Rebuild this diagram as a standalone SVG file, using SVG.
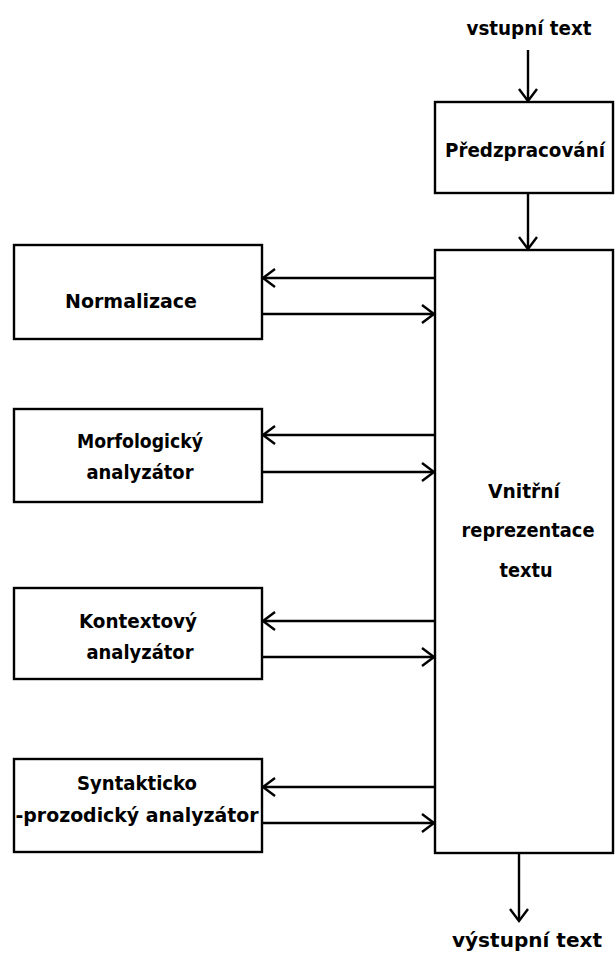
<svg xmlns="http://www.w3.org/2000/svg" width="615" height="956" viewBox="0 0 615 956">
<style>
.box{fill:#fff;stroke:#000;stroke-width:2.4}
.t{font-family:"DejaVu Sans Condensed","DejaVu Sans","Liberation Sans",sans-serif;font-stretch:condensed;font-weight:bold;font-size:20px;fill:#000;text-anchor:middle}
.c{stroke:#000;stroke-width:2.4;fill:none}
</style>
<defs>
<marker id="ah" viewBox="-14 -11 16 22" markerWidth="16" markerHeight="22" refX="0" refY="0" orient="auto" markerUnits="userSpaceOnUse">
<path d="M-12,-9 L0,0 L-12,9" fill="none" stroke="#000" stroke-width="2.4"/>
</marker>
</defs>
<g id="input-label"><text class="t" x="529" y="35" textLength="125" lengthAdjust="spacingAndGlyphs">vstupní text</text></g>
<g id="predzpracovani"><rect class="box" x="435" y="102" width="178" height="91"/><text class="t" x="525" y="157" font-size="19" textLength="160" lengthAdjust="spacingAndGlyphs">Předzpracování</text></g>
<g id="vnitrni"><rect class="box" x="435" y="250" width="178" height="603"/>
<text class="t" x="524" y="498" textLength="72" lengthAdjust="spacingAndGlyphs">Vnitřní</text>
<text class="t" x="528" y="537" font-size="19" textLength="133" lengthAdjust="spacingAndGlyphs">reprezentace</text>
<text class="t" x="526" y="577" textLength="53" lengthAdjust="spacingAndGlyphs">textu</text></g>
<g id="normalizace"><rect class="box" x="14" y="245" width="248" height="94"/><text class="t" x="131" y="308" textLength="132" lengthAdjust="spacingAndGlyphs">Normalizace</text></g>
<g id="morfologicky"><rect class="box" x="14" y="409" width="248" height="93"/><text class="t" x="140" y="448" textLength="126" lengthAdjust="spacingAndGlyphs">Morfologický</text><text class="t" x="140" y="479" textLength="107" lengthAdjust="spacingAndGlyphs">analyzátor</text></g>
<g id="kontextovy"><rect class="box" x="14" y="588" width="248" height="91"/><text class="t" x="138" y="628" textLength="118" lengthAdjust="spacingAndGlyphs">Kontextový</text><text class="t" x="140" y="659" textLength="107" lengthAdjust="spacingAndGlyphs">analyzátor</text></g>
<g id="syntakticko"><rect class="box" x="14" y="759" width="248" height="93"/><text class="t" x="137" y="790" textLength="120" lengthAdjust="spacingAndGlyphs">Syntakticko</text><text class="t" x="137" y="822" font-size="19" textLength="243" lengthAdjust="spacingAndGlyphs">-prozodický analyzátor</text></g>
<g id="output-label"><text class="t" x="527" y="947" font-size="21" textLength="150" lengthAdjust="spacingAndGlyphs">výstupní text</text></g>
<g id="connectors">
<line class="c" x1="528" y1="50" x2="528" y2="101" marker-end="url(#ah)"/>
<line class="c" x1="528" y1="193" x2="528" y2="249" marker-end="url(#ah)"/>
<line class="c" x1="435" y1="278" x2="263" y2="278" marker-end="url(#ah)"/>
<line class="c" x1="262" y1="314" x2="434" y2="314" marker-end="url(#ah)"/>
<line class="c" x1="435" y1="435" x2="263" y2="435" marker-end="url(#ah)"/>
<line class="c" x1="262" y1="472" x2="434" y2="472" marker-end="url(#ah)"/>
<line class="c" x1="435" y1="621" x2="263" y2="621" marker-end="url(#ah)"/>
<line class="c" x1="262" y1="657" x2="434" y2="657" marker-end="url(#ah)"/>
<line class="c" x1="435" y1="787" x2="263" y2="787" marker-end="url(#ah)"/>
<line class="c" x1="262" y1="823" x2="434" y2="823" marker-end="url(#ah)"/>
<line class="c" x1="519" y1="853" x2="519" y2="921" marker-end="url(#ah)"/>
</g>
</svg>
